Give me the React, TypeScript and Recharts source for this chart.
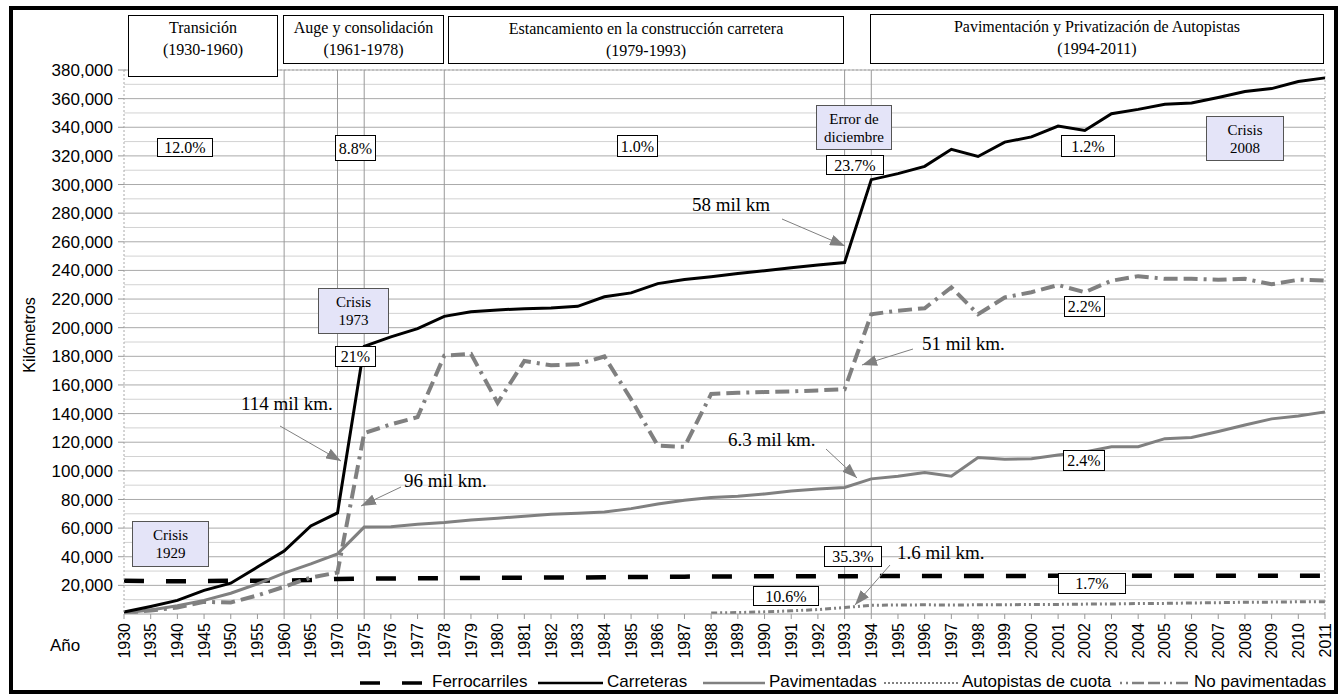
import React from "react";
import { LineChart, Line, XAxis, YAxis, CartesianGrid, ReferenceLine } from "recharts";

// años (eje de categorías, con saltos de 5 años hasta 1975)
const YEARS = [
  "1930", "1935", "1940", "1945", "1950", "1955", "1960", "1965", "1970",
  "1975", "1976", "1977", "1978", "1979", "1980", "1981", "1982", "1983",
  "1984", "1985", "1986", "1987", "1988", "1989", "1990", "1991", "1992",
  "1993", "1994", "1995", "1996", "1997", "1998", "1999", "2000", "2001",
  "2002", "2003", "2004", "2005", "2006", "2007", "2008", "2009", "2010", "2011",
];

const FERROCARRILES = [
  23300, 22900, 22900, 23000, 23300, 23300, 23400, 23700, 24500,
  24700, 24800, 24900, 25000, 25200, 25300, 25400, 25500, 25500,
  25700, 25800, 26000, 26100, 26200, 26300, 26300, 26300, 26400,
  26400, 26500, 26600, 26600, 26600, 26600, 26600, 26600, 26700,
  26700, 26700, 26700, 26700, 26700, 26700, 26700, 26700, 26700, 26700,
];

const CARRETERAS = [
  1400, 5300, 9500, 16500, 21500, 32800, 44000, 61500, 70600,
  187000, 193600, 199300, 207900, 211100, 212400, 213300, 213800, 214900,
  221600, 224300, 230800, 233600, 235500, 237800, 239800, 241800, 243800,
  245500, 303400, 307600, 312700, 324600, 319600, 329600, 333300, 340800,
  337800, 349500, 352500, 356000, 357000, 360800, 365000, 367000, 372000, 374500,
];

const PAVIMENTADAS = [
  800, 2800, 5800, 9500, 14500, 21000, 28500, 35000, 42000,
  60700, 61000, 62700, 63900, 65700, 66900, 68200, 69700, 70400,
  71200, 73600, 76900, 79400, 81400, 82200, 83900, 85900, 87400,
  88400, 94400, 96300, 98800, 96300, 109300, 108100, 108500, 111000,
  113100, 116800, 116800, 122500, 123300, 127500, 132000, 136300, 138300, 141200,
];

const AUTOPISTAS = [
  null, null, null, null, null, null, null, null, null,
  null, null, null, null, null, null, null, null, null,
  null, null, null, null, 700, 1000, 1500, 2200, 3100,
  4500, 6100, 6300, 6400, 6300, 6400, 6500, 6600, 6700,
  6900, 7000, 7300, 7400, 7700, 7900, 8200, 8300, 8500, 8600,
];

const NO_PAVIMENTADAS = [
  600, 2500, 4500, 8500, 8000, 13000, 19000, 25500, 29000,
  126300, 132500, 137500, 180400, 181700, 147500, 176700, 173700, 174400,
  179900, 150000, 117600, 116800, 153700, 154500, 155000, 155500, 156200,
  157000, 209400, 211900, 213600, 228100, 209400, 221100, 224800, 229800,
  224800, 232800, 236000, 234100, 234100, 233500, 234100, 230300, 233500, 233000,
];

const Y_TICKS = [
  20000, 40000, 60000, 80000, 100000, 120000, 140000, 160000, 180000, 200000,
  220000, 240000, 260000, 280000, 300000, 320000, 340000, 360000, 380000,
];
const Y_MINOR = [
  10000, 30000, 50000, 70000, 90000, 110000, 130000, 150000, 170000, 190000,
  210000, 230000, 250000, 270000, 290000, 310000, 330000, 350000, 370000,
];

// límites de los periodos
const PERIOD_LINES = ["1960", "1970", "1975", "1978", "1993", "1994"];

const SANS = "Liberation Sans";
const SERIF = "Liberation Serif";
const GRAY = "#808080";

const data = YEARS.map((year, i) => ({
  year,
  ferro: FERROCARRILES[i],
  carreteras: CARRETERAS[i],
  pavimentadas: PAVIMENTADAS[i],
  autopistas: AUTOPISTAS[i],
  noPav: NO_PAVIMENTADAS[i],
}));

function XTick(props: any) {
  const { x, y, payload } = props;
  const ty = y + 2;
  return (
    <text
      x={x}
      y={ty}
      dy="0.35em"
      transform={`rotate(-90, ${x}, ${ty})`}
      textAnchor="end"
      fill="#000"
      fontSize={16}
      fontFamily={SANS}
    >
      {payload.value}
    </text>
  );
}

// caja con texto centrado (periodos, tasas, crisis)
function Box({ left, top, width, height, lines, offsets, fill = "#fff", border = "#000", fontSize = 16 }: any) {
  const cx = left + width / 2;
  const ys = offsets || (lines.length > 1 ? [height / 2 - 9, height / 2 + 9] : [height / 2]);
  return (
    <g>
      <rect x={left + 0.5} y={top + 0.5} width={width - 1} height={height - 1} fill={fill} stroke={border} strokeWidth={1} />
      {lines.map((l: string, i: number) => (
        <text
          key={l}
          x={cx}
          y={top + ys[i]}
          textAnchor="middle"
          dominantBaseline="central"
          fontFamily={SERIF}
          fontSize={fontSize}
          fill="#000"
        >
          {l}
        </text>
      ))}
    </g>
  );
}

const PERIODS = [
  { left: 128, top: 15, width: 150, height: 62, lines: ["Transición", "(1930-1960)"] },
  { left: 283, top: 15, width: 161, height: 49, lines: ["Auge y consolidación", "(1961-1978)"] },
  { left: 448, top: 16, width: 396, height: 48, lines: ["Estancamiento en la construcción carretera", "(1979-1993)"] },
  { left: 870, top: 14, width: 454, height: 50, lines: ["Pavimentación y Privatización de Autopistas", "(1994-2011)"] },
];

const RATES = [
  { left: 157, top: 138, width: 56, height: 19, text: "12.0%" },
  { left: 335, top: 135, width: 41, height: 26, text: "8.8%" },
  { left: 617, top: 135, width: 41, height: 22, text: "1.0%" },
  { left: 335, top: 346, width: 41, height: 21, text: "21%" },
  { left: 826, top: 155, width: 58, height: 20, text: "23.7%" },
  { left: 1061, top: 135, width: 54, height: 22, text: "1.2%" },
  { left: 1064, top: 296, width: 41, height: 21, text: "2.2%" },
  { left: 1063, top: 450, width: 42, height: 21, text: "2.4%" },
  { left: 824, top: 546, width: 58, height: 21, text: "35.3%" },
  { left: 753, top: 586, width: 66, height: 20, text: "10.6%" },
  { left: 1058, top: 573, width: 68, height: 21, text: "1.7%" },
];

const CRISES = [
  { left: 132, top: 521, width: 77, height: 46, lines: ["Crisis", "1929"] },
  { left: 318, top: 288, width: 71, height: 46, lines: ["Crisis", "1973"] },
  { left: 816, top: 105, width: 76, height: 45, lines: ["Error de", "diciembre"] },
  { left: 1206, top: 116, width: 78, height: 45, lines: ["Crisis", "2008"] },
];

const NOTES = [
  { x: 241, y: 406, text: "114 mil km.", x1: 280, y1: 426, x2: 341, y2: 461 },
  { x: 404, y: 483, text: "96 mil km.", x1: 401, y1: 487, x2: 361, y2: 506 },
  { x: 692, y: 207, text: "58 mil km", x1: 782, y1: 219, x2: 845, y2: 246 },
  { x: 922, y: 346, text: "51 mil km.", x1: 913, y1: 349, x2: 862, y2: 365 },
  { x: 728, y: 442, text: "6.3 mil km.", x1: 826, y1: 449, x2: 857, y2: 478 },
  { x: 897, y: 555, text: "1.6 mil km.", x1: 890, y1: 565, x2: 855, y2: 605 },
];

const LEGEND = [
  { label: "Ferrocarriles", x1: 360, x2: 428, color: "#000", width: 3.5, dash: "20 22" },
  { label: "Carreteras", x1: 538, x2: 603, color: "#000", width: 2.5, dash: undefined },
  { label: "Pavimentadas", x1: 703, x2: 765, color: GRAY, width: 2.5, dash: undefined },
  { label: "Autopistas de cuota", x1: 884, x2: 958, color: GRAY, width: 2, dash: "2 2" },
  { label: "No pavimentadas", x1: 1120, x2: 1190, color: GRAY, width: 2.5, dash: "2 4 2 4 12 4 12 4" },
];

export default function App() {
  return (
    <div style={{ position: "absolute", left: 0, top: 0, width: 1342, height: 700, background: "#fff" }}>
      <LineChart
        width={1342}
        height={700}
        data={data}
        margin={{ top: 70, right: 17, bottom: 26, left: 64 }}
        style={{ position: "absolute", left: 0, top: 0 }}
      >
        <CartesianGrid vertical={false} horizontalValues={Y_MINOR} stroke="#d2d2d2" />
        <CartesianGrid vertical={false} horizontalValues={Y_TICKS} stroke="#aaaaaa" />
        <XAxis
          dataKey="year"
          scale="point"
          padding={{ left: 0, right: 0 }}
          interval={0}
          height={60}
          tickSize={5}
          tick={<XTick />}
          axisLine={{ stroke: "#999" }}
          tickLine={{ stroke: "#999" }}
        />
        <YAxis
          domain={[0, 380000]}
          ticks={Y_TICKS}
          width={60}
          tickSize={6}
          tickMargin={5}
          tickFormatter={(v: number) => v.toLocaleString("en-US")}
          tick={{ fill: "#000", fontSize: 17, fontFamily: SANS }}
          axisLine={{ stroke: "#aaa", strokeDasharray: "2 2" }}
          tickLine={{ stroke: "#999" }}
          allowDataOverflow
        />
        <ReferenceLine y={380000} stroke="#aaa" strokeDasharray="2 2" />
        <ReferenceLine x="2011" stroke="#aaa" strokeDasharray="2 2" />
        {PERIOD_LINES.map((yr) => (
          <ReferenceLine key={yr} x={yr} stroke="#999" strokeWidth={1} />
        ))}
        <Line dataKey="ferro" stroke="#000" strokeWidth={4.5} strokeDasharray="20 22" dot={false} isAnimationActive={false} />
        <Line dataKey="pavimentadas" stroke={GRAY} strokeWidth={3} dot={false} isAnimationActive={false} />
        <Line dataKey="autopistas" stroke={GRAY} strokeWidth={3} strokeDasharray="6 3 2 3 2 3" dot={false} isAnimationActive={false} />
        <Line dataKey="noPav" stroke={GRAY} strokeWidth={4} strokeDasharray="14 6 14 6 3 6" dot={false} isAnimationActive={false} />
        <Line dataKey="carreteras" stroke="#000" strokeWidth={3} dot={false} isAnimationActive={false} />
      </LineChart>

      {/* marco exterior */}
      <div
        style={{
          position: "absolute",
          left: 9,
          top: 6,
          width: 1329,
          height: 688,
          border: "4px solid #000",
          boxSizing: "border-box",
          pointerEvents: "none",
        }}
      />

      <svg width={1342} height={700} style={{ position: "absolute", left: 0, top: 0, pointerEvents: "none" }}>
        <defs>
          <marker id="ah" markerWidth={15} markerHeight={11} refX={15} refY={5.5} orient="auto" markerUnits="userSpaceOnUse">
            <path d="M0,0 L15,5.5 L0,11 z" fill={GRAY} />
          </marker>
        </defs>

        {PERIODS.map((p) => (
          <Box key={p.lines[0]} {...p} offsets={[12.5, 34]} />
        ))}
        {RATES.map((r) => (
          <Box key={r.text + r.left} {...r} lines={[r.text]} />
        ))}
        {CRISES.map((c) => (
          <Box key={c.lines[1]} {...c} fill="#e4e4f8" border="#555" fontSize={15} />
        ))}

        {NOTES.map((n) => (
          <g key={n.text}>
            <text x={n.x} y={n.y} dominantBaseline="middle" fontFamily={SERIF} fontSize={19} fill="#000">
              {n.text}
            </text>
            <line x1={n.x1} y1={n.y1} x2={n.x2} y2={n.y2} stroke={GRAY} strokeWidth={1} markerEnd="url(#ah)" />
          </g>
        ))}

        <text
          x={31}
          y={335}
          transform="rotate(-90, 31, 335)"
          textAnchor="middle"
          dominantBaseline="middle"
          fontFamily={SANS}
          fontSize={16}
          fill="#000"
        >
          Kilómetros
        </text>
        <text x={50} y={647} dominantBaseline="middle" fontFamily={SANS} fontSize={17} fill="#000">
          Año
        </text>

        {LEGEND.map((l) => (
          <g key={l.label}>
            <line x1={l.x1} y1={683} x2={l.x2} y2={683} stroke={l.color} strokeWidth={l.width} strokeDasharray={l.dash} />
            <text x={l.x2 + 4} y={683} dominantBaseline="middle" fontFamily={SANS} fontSize={17} fill="#000">
              {l.label}
            </text>
          </g>
        ))}
      </svg>
    </div>
  );
}
